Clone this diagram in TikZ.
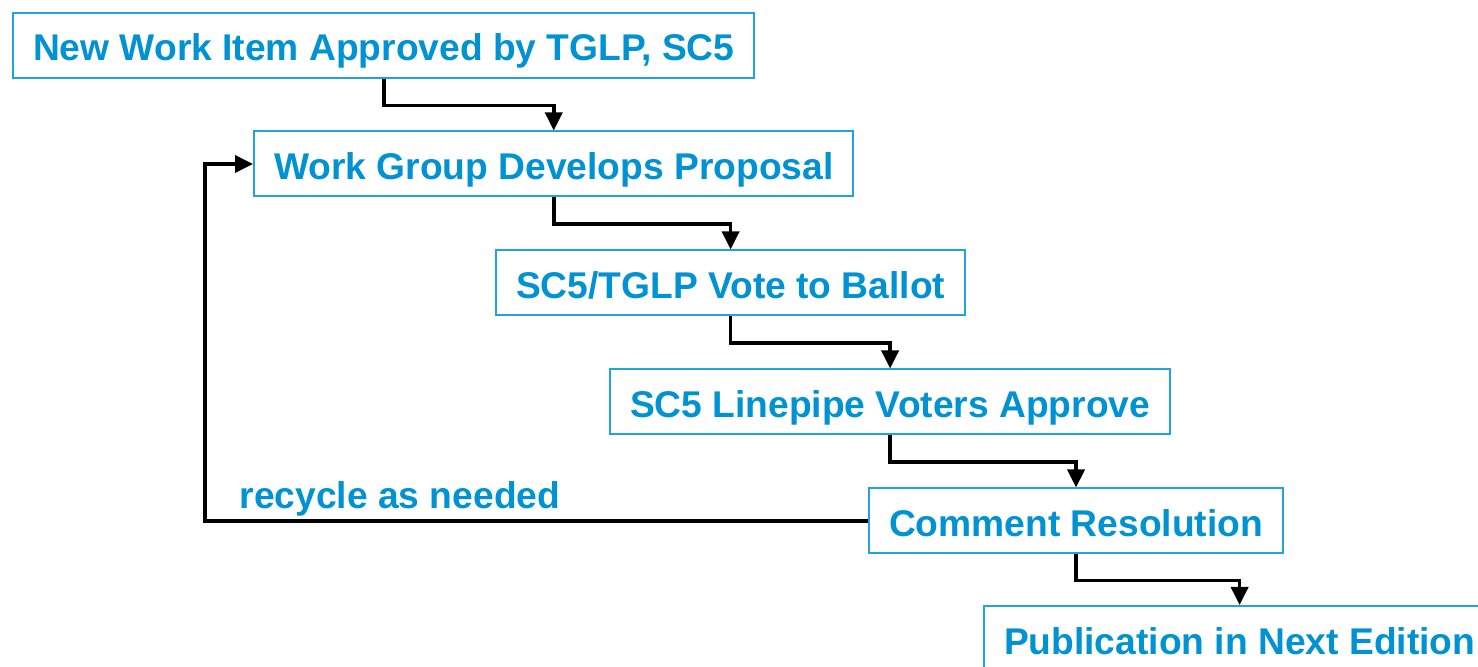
\documentclass[tikz,border=0pt]{standalone}
\usepackage{fontspec}
\setmainfont{Liberation Sans}
\usetikzlibrary{arrows.meta}
\definecolor{stepblue}{RGB}{0,146,211}
\definecolor{edgeblue}{RGB}{30,164,222}

\begin{document}
\begin{tikzpicture}[x=0.5pt,y=-0.5pt,>={Triangle[length=9pt,width=8.5pt]},
  box/.style={draw=edgeblue,line width=1pt,text=stepblue,
    font=\bfseries\fontsize{18.6}{22}\selectfont,
    text height=15.5pt,text depth=0pt,
    inner xsep=10pt,inner ysep=0pt,minimum height=32.5pt,anchor=west},
  flow/.style={->,line width=1.8pt}]

\useasboundingbox (0,0) rectangle (1478,667);

\node[box] (s1) at (12,45.5)   {New Work Item Approved by TGLP, SC5};
\node[box] (s2) at (253,164)   {Work Group Develops Proposal};
\node[box] (s3) at (495,283)   {SC5/TGLP Vote to Ballot};
\node[box] (s4) at (609,402)   {SC5 Linepipe Voters Approve};
\node[box] (s5) at (868,521)   {Comment Resolution};
\node[box] (s6) at (983,638.5) {Publication in Next Edition};

% steps down the ladder
\draw[flow] (s1.south) -- ++(0,26.5) -| (s2.north);
\draw[flow] (s2.south) -- ++(0,26.5) -| (s3.north);
\draw[flow] (s3.south) -- ++(0,26.5) -| (s4.north);
\draw[flow] (s4.south) -- ++(0,26.5) -| (s5.north);
\draw[flow] (s5.south) -- ++(0,26) -| (s6.north);

% back round to the work group
\draw[flow] (s5.west) -- ++(-663,0) |- (s2.west);
\node[text=stepblue,font=\bfseries\fontsize{18.6}{22}\selectfont] (rc) at (400,499) {recycle as needed};

\end{tikzpicture}
\end{document}
